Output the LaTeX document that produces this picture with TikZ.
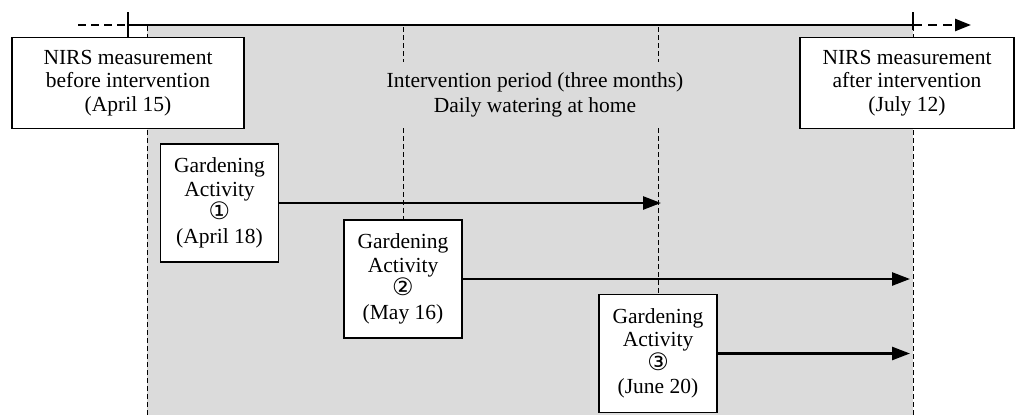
\documentclass[tikz,border=0pt]{standalone}
\usepackage{fontspec}
\setmainfont{Liberation Serif}
\newfontfamily\symfont{DejaVu Sans}
\usetikzlibrary{arrows.meta}
\tikzset{
  box/.style={draw=black, line width=1.6pt, fill=white, align=center, inner sep=0pt,
    font=\fontsize{21.5}{23.5}\selectfont},
  ga/.style={box, minimum width=118pt, minimum height=118pt},
  nirs/.style={box, minimum height=91pt},
  vdash/.style={draw=black, line width=1pt, dash pattern=on 5pt off 3pt},
  tl/.style={line width=2.4pt},
  arr/.style={line width=2.6pt, -{Triangle[length=18pt,width=13pt]}},
}
\newcommand{\circnum}[1]{{\symfont\fontsize{24}{22}\selectfont #1}}
\begin{document}
\begin{tikzpicture}[x=1pt,y=-1pt]
\useasboundingbox (0,0) rectangle (1027,415);
% gray intervention region
\fill[gray!28] (147,26) rectangle (913,415);
\coordinate (gl) at (147,26);
\coordinate (glb) at (147,415);
\coordinate (gr) at (913,26);
\coordinate (grb) at (913,415);
\draw[vdash] (gl) -- (glb);
\draw[vdash] (gr) -- (grb);
% timeline
\coordinate (t0) at (78,25);
\coordinate (t1) at (128,25);
\coordinate (t2) at (913,25);
\coordinate (t3) at (971,25);
\draw[tl, dash pattern=on 8pt off 5pt] (t0) -- (t1);
\draw[tl] (t1) -- (t2);
\draw[tl, dash pattern=on 9pt off 6pt, -{Triangle[length=16pt,width=12pt]}] (t2) -- (t3);
\draw[line width=1.8pt] (128,12) -- (128,37);
\draw[line width=1.8pt] (913,12) -- (913,30);
% texts
\node[font=\fontsize{21.5}{25}\selectfont, align=center] (txt) at (535,95)
  {Intervention period (three months)\\Daily watering at home};
% boxes
\node[nirs, minimum width=232pt] (pre) at (128,83)
  {NIRS measurement\\before intervention\\(April 15)};
\node[nirs, minimum width=214pt] (post) at (907,83)
  {NIRS measurement\\after intervention\\(July 12)};
\node[ga] (g1) at (219.5,203) {Gardening\\Activity\\\circnum{①}\\(April 18)};
\node[ga] (g2) at (403,279) {Gardening\\Activity\\\circnum{②}\\(May 16)};
\node[ga] (g3) at (658,353.5) {Gardening\\Activity\\\circnum{③}\\(June 20)};
% vertical dashed lines
\coordinate (v1a) at (403,27);
\coordinate (v1b) at (403,62);
\coordinate (v1c) at (403,128);
\coordinate (v2a) at (658,27);
\coordinate (v2b) at (658,62);
\coordinate (v2c) at (658,128);
\draw[vdash] (v1a) -- (v1b);
\draw[vdash] (v1c) -- (g2.north);
\draw[vdash] (v2a) -- (v2b);
\draw[vdash] (v2c) -- (g3.north);
% arrows
\coordinate (e1) at (661,203);
\coordinate (e2) at (910,279);
\coordinate (e3) at (910,353.5);
\draw[arr] (g1.east) -- (e1);
\draw[arr] (g2.east) -- (e2);
\draw[arr] (g3.east) -- (e3);
\end{tikzpicture}
\end{document}
